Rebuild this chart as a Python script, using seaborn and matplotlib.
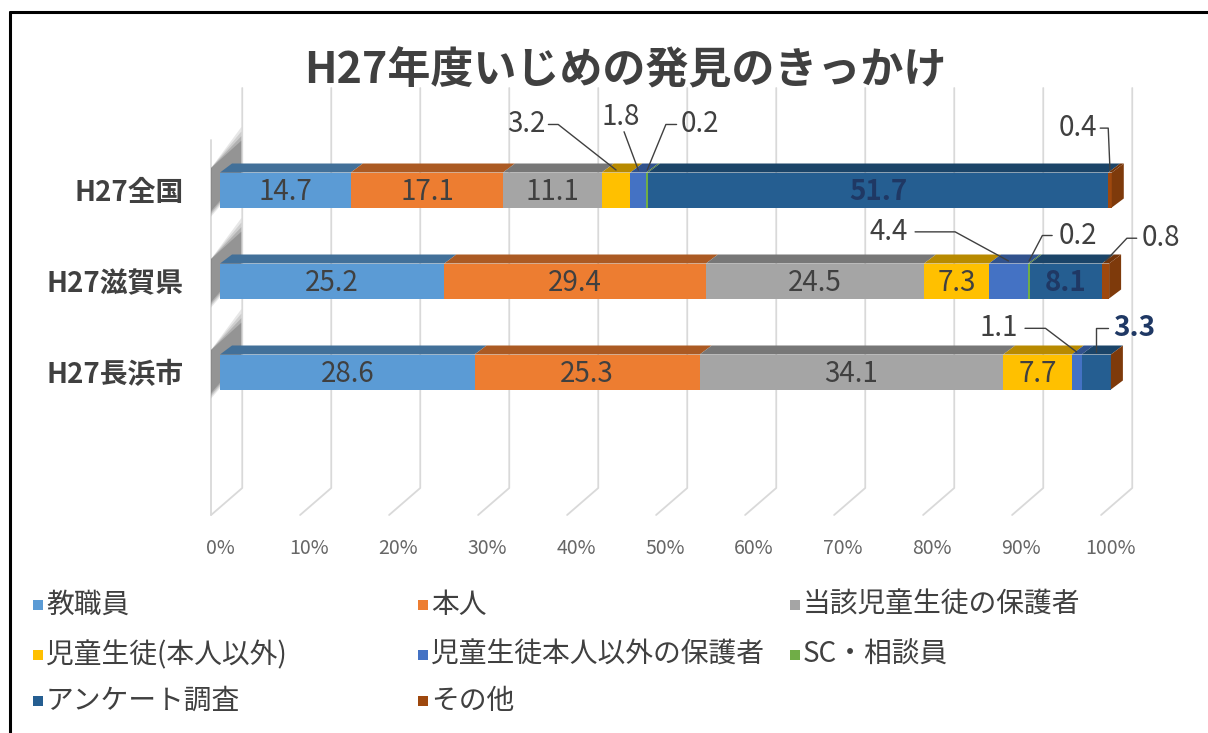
import numpy as np
import pandas as pd
import matplotlib
matplotlib.use("Agg")
import matplotlib.pyplot as plt
import seaborn as sns
from matplotlib.patches import Polygon, Rectangle
from matplotlib.lines import Line2D
import matplotlib.colors as mcolors

# ---------------- data ----------------
regions = ["H27全国", "H27滋賀県", "H27長浜市"]
series = ["教職員", "本人", "当該児童生徒の保護者", "児童生徒(本人以外)",
          "児童生徒本人以外の保護者", "SC・相談員", "アンケート調査", "その他"]
v_kyoshokuin = [14.7, 25.2, 28.6]
v_honnin = [17.1, 29.4, 25.3]
v_tougai_hogosha = [11.1, 24.5, 34.1]
v_jidou = [3.2, 7.3, 7.7]
v_jidou_hogosha = [1.8, 4.4, 1.1]
v_sc = [0.2, 0.2, 0.0]
v_enquete = [51.7, 8.1, 3.3]
v_other = [0.4, 0.8, 0.0]
colors = ["#5B9BD5", "#ED7D31", "#A5A5A5", "#FFC000",
          "#4472C4", "#70AD47", "#255E91", "#9E480E"]
xticks = [0, 10, 20, 30, 40, 50, 60, 70, 80, 90, 100]
xtick_labels = [f"{t}%" for t in xticks]
title = "H27年度いじめの発見のきっかけ"

vals = np.array([v_kyoshokuin, v_honnin, v_tougai_hogosha, v_jidou,
                 v_jidou_hogosha, v_sc, v_enquete, v_other]).T  # rows x series
cum = vals.cumsum(axis=1)
left = cum - vals

# ---------------- style ----------------
sns.set_theme(style="white")
plt.rcParams["font.family"] = ["Noto Sans CJK JP", "DejaVu Sans"]

W, H = 1208, 733
fig = plt.figure(figsize=(W / 100, H / 100), dpi=100)
fig.patch.set_facecolor("white")

PX_PER_PCT = 8.9
X0_PX = 220
ROW0_PX = 190
PX_PER_ROW = 91

def px2x(px):
    return (px - X0_PX) / PX_PER_PCT

def py2y(py):
    return (py - ROW0_PX) / PX_PER_ROW

ax_l, ax_r, ax_t, ax_b = 200, 1180, 85, 530
ax = fig.add_axes([ax_l / W, 1 - ax_b / H, (ax_r - ax_l) / W, (ax_b - ax_t) / H])

bar_h = 35 / PX_PER_ROW

# stacked bars drawn from the right-most cumulative sum back to the first
for j in range(len(series) - 1, -1, -1):
    df = pd.DataFrame({"region": regions, "value": cum[:, j]})
    sns.barplot(data=df, x="value", y="region", orient="h", color=colors[j],
                saturation=1, width=bar_h, linewidth=0, ax=ax, zorder=3)

ax.set_xlim(px2x(ax_l), px2x(ax_r))
ax.set_ylim(py2y(ax_b), py2y(ax_t))

def darker(c, f=0.72):
    r, g, b = mcolors.to_rgb(c)
    return (r * f, g * f, b * f)

# back-wall gridlines (3D look)
y_top, y_floor, y_bot = py2y(88), py2y(488), py2y(515)
for k in xticks:
    ax.plot([k + 2.5, k + 2.5, k - 1.0], [y_top, y_floor, y_bot],
            color="#D9D9D9", lw=1.3, zorder=0, clip_on=False)
ax.plot([-1.0, -1.0], [py2y(140), y_bot], color="#D9D9D9", lw=1.3, zorder=0)

dx = 12 / PX_PER_PCT
dz = 9 / PX_PER_ROW
for i in range(len(regions)):
    yf_top = i - bar_h / 2
    yf_bot = i + bar_h / 2
    # soft wall shadow at the left end of each bar
    for s, a in [(1.0, 0.12), (0.8, 0.15), (0.6, 0.2), (0.4, 0.25)]:
        ax.add_patch(Polygon([(-1.0, yf_bot + 0.10 * s), (-1.0, yf_top - 0.05),
                              (2.4, yf_top - 0.25 - 0.25 * s),
                              (2.4, yf_top + 0.10 * s)],
                             closed=True, facecolor="#404040", alpha=a,
                             edgecolor="none", zorder=1))
    # top faces
    for j in range(len(series)):
        if vals[i, j] <= 0:
            continue
        l, r = left[i, j], cum[i, j]
        ax.add_patch(Polygon([(l, yf_top), (r, yf_top), (r + dx, yf_top - dz),
                              (l + dx, yf_top - dz)], closed=True,
                             facecolor=darker(colors[j]), edgecolor="none",
                             zorder=4))
    # right side face
    tot = cum[i, -1]
    ax.add_patch(Polygon([(tot, yf_top), (tot + dx, yf_top - dz),
                          (tot + dx, yf_bot - dz), (tot, yf_bot)], closed=True,
                         facecolor=darker(colors[-1], 0.8), edgecolor="none",
                         zorder=4))

# data labels
label_color = "#404040"
bold_color = "#1F3864"
bold_series = 6
# callouts: (row, series) -> (text dx, text y, leader start dx, elbow dx, ha, leader y)
callouts = {
    (0, 3): (-7.9, -0.72, -7.6, -6.5, "right", None),
    (0, 4): (-2.0, -0.80, -1.6, -1.6, "center", -0.64),
    (0, 5): (3.8, -0.72, 3.3, 2.1, "left", None),
    (0, 7): (-1.4, -0.68, -1.1, -0.2, "right", None),
    (1, 4): (-11.3, -0.54, -10.5, -6.0, "right", None),
    (1, 5): (3.3, -0.50, 2.6, 1.5, "left", None),
    (1, 7): (4.1, -0.47, 3.5, 2.4, "left", None),
    (2, 4): (-6.55, -0.48, -5.8, -3.5, "right", None),
    (2, 6): (1.9, -0.48, 1.3, 0.0, "left", None),
}
for i in range(len(regions)):
    for j in range(len(series)):
        v = vals[i, j]
        if v <= 0:
            continue
        c = left[i, j] + v / 2
        is_bold = j == bold_series
        col = bold_color if is_bold else label_color
        fw = "bold" if is_bold else "normal"
        txt = f"{v:.1f}"
        if (i, j) in callouts:
            tdx, ty, e1, e2, ha, ly = callouts[(i, j)]
            ly = ty if ly is None else ly
            ax.text(c + tdx, i + ty, txt, ha=ha, va="center", fontsize=20,
                    color=col, fontweight=fw, zorder=6, clip_on=False)
            ax.plot([c + e1, c + e2, c], [i + ly, i + ly, i - 0.22],
                    color="#404040", lw=1.0, zorder=6, clip_on=False)
        else:
            ax.text(c, i + 0.02, txt, ha="center", va="center", fontsize=20,
                    color=col, fontweight=fw, zorder=6)

# axes cosmetics
for s in ax.spines.values():
    s.set_visible(False)
ax.set_xlabel("")
ax.set_ylabel("")
ax.set_xticks(xticks)
ax.set_xticklabels(xtick_labels, color="#666666", fontsize=14)
ax.tick_params(axis="x", length=0, pad=6)
ax.set_yticks(range(len(regions)))
ax.set_yticklabels(regions, fontsize=20, fontweight="bold", color="#404040")
ax.tick_params(axis="y", length=0, pad=12)
ax.grid(False)

# title
fig.text(625 / W, 1 - 70 / H, title, ha="center", va="center", fontsize=31,
         fontweight="bold", color="#404040")

# frame (top and left edges visible)
fig.add_artist(Line2D([10 / W, 1], [1 - 12 / H, 1 - 12 / H], color="black",
                      lw=2.2, transform=fig.transFigure))
fig.add_artist(Line2D([10 / W, 10 / W], [0, 1 - 12 / H], color="black",
                      lw=2.2, transform=fig.transFigure))

# legend (Excel-like flow layout)
legend_pos = [(33, 605), (418, 605), (790, 605),
              (33, 655), (418, 655), (790, 655),
              (33, 701), (418, 701)]
for j, (px, py) in enumerate(legend_pos):
    sz = 10
    fig.add_artist(Rectangle((px / W, 1 - (py + sz / 2) / H), sz / W, sz / H,
                             transform=fig.transFigure, facecolor=colors[j],
                             edgecolor="none"))
    fig.text((px + sz + 3) / W, 1 - py / H, series[j], ha="left", va="center",
             fontsize=20, color="#404040")

fig.savefig("out.png", dpi=100)
